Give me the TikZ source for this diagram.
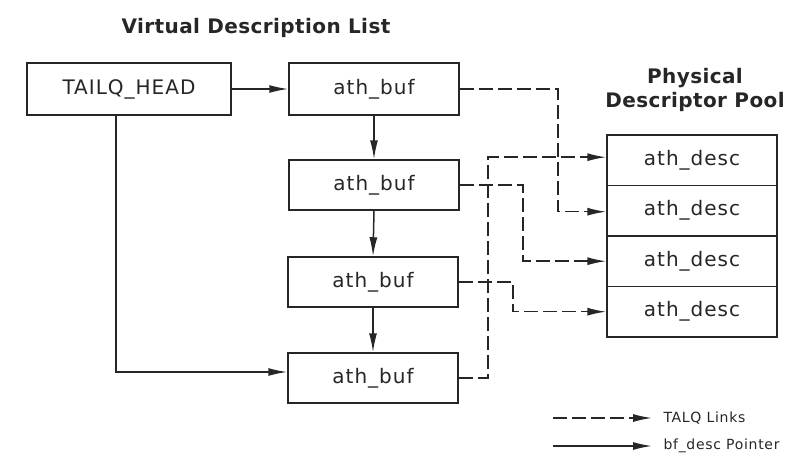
\documentclass[tikz,border=0pt]{standalone}
\usepackage{fontspec}
\setmainfont{DejaVu Sans}
\usetikzlibrary{arrows.meta,calc}
\begin{document}
\begin{tikzpicture}[x=1pt,y=-1pt,
  box/.style={draw=black!85,line width=1.5pt,minimum width=170pt,minimum height=50pt,inner sep=0pt,font=\addfontfeatures{LetterSpace=5}\fontsize{20}{22}\selectfont,text=black!85},
  tip/.style={-{Latex[length=19pt,width=8pt]}},
  ptr/.style={tip,draw=black!85,line width=1.5pt},
  talq/.style={tip,draw=black!85,line width=1.5pt,dash pattern=on 14pt off 5pt},
  ttl/.style={font=\bfseries\addfontfeatures{LetterSpace=2}\fontsize{20}{24}\selectfont,text=black!85,align=center},
  lg/.style={font=\addfontfeatures{LetterSpace=5}\fontsize{14}{16}\selectfont,text=black!85,anchor=west}]
\useasboundingbox (0,0) rectangle (812,463);
\node[ttl] (t1) at (256,28) {Virtual Description List};
\node[ttl] (t2) at (695,90) {Physical\\Descriptor Pool};
\node[box,minimum width=204pt,minimum height=52pt] (head) at (129,89) {TAILQ\_HEAD};
\node[box,minimum height=52pt] (b1) at (374,89) {ath\_buf};
\node[box] (b2) at (374,185) {ath\_buf};
\node[box] (b3) at (373,282) {ath\_buf};
\node[box] (b4) at (373,378) {ath\_buf};
\node[box,minimum height=50.5pt] (d1) at (692,160.2) {ath\_desc};
\node[box,minimum height=50.5pt] (d2) at (692,210.7) {ath\_desc};
\node[box,minimum height=50.5pt] (d3) at (692,261.2) {ath\_desc};
\node[box,minimum height=50.5pt] (d4) at (692,311.7) {ath\_desc};
\draw[ptr] (head.east) -- (b1.west);
\draw[ptr] (b1.south) -- (b2.north);
\draw[ptr] (b2.south) -- (b3.north);
\draw[ptr] (b3.south) -- (b4.north);
\coordinate (hs) at ($(head.south)+(-13,0)$);
\coordinate (b4in) at ($(b4.west)+(0,-6)$);
\draw[ptr] (hs) |- (b4in);
\draw[talq] (b1.east) -- ++(98,0) |- ($(d2.west)+(0,1)$);
\draw[talq] (b2.east) -- ++(63,0) |- (d3.west);
\draw[talq] (b3.east) -- ++(54,0) |- (d4.west);
\draw[talq] (b4.east) -- ++(29,0) |- ($(d1.west)+(0,-3)$);
\coordinate (l1a) at (553,418);
\coordinate (l1b) at (652,418);
\coordinate (l2a) at (553,446);
\coordinate (l2b) at (652,446);
\draw[talq] (l1a) -- (l1b);
\draw[ptr] (l2a) -- (l2b);
\node[lg] (lt1) at (660,418) {TALQ Links};
\node[lg] (lt2) at (660,446) {bf\_desc Pointer};
\end{tikzpicture}
\end{document}
